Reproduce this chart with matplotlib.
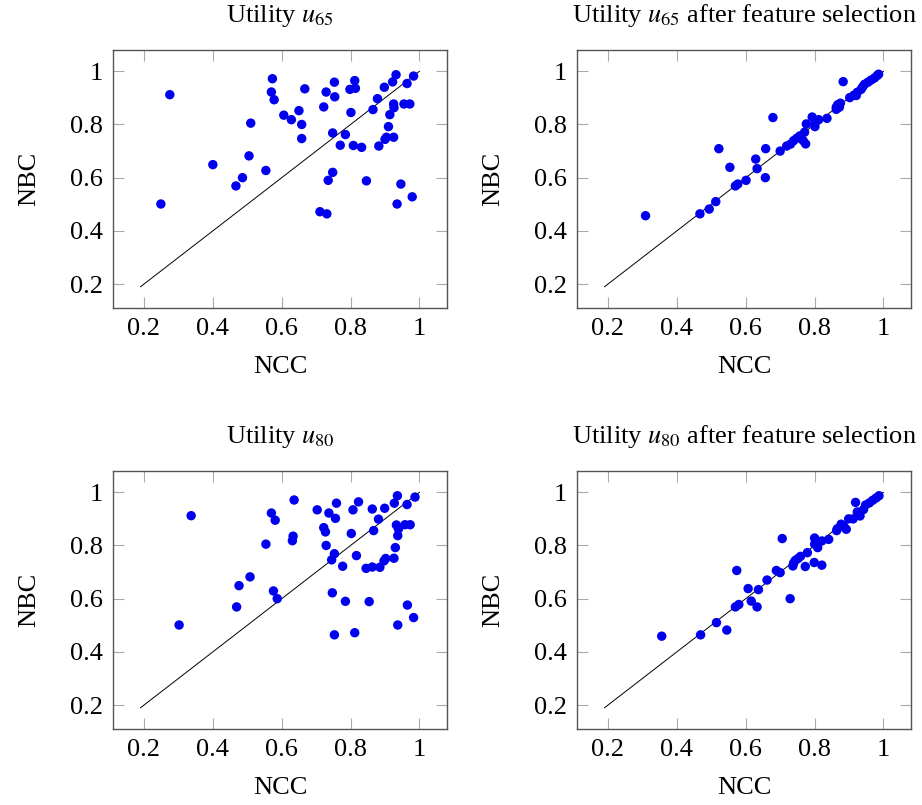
import matplotlib
matplotlib.use("Agg")
import matplotlib.pyplot as plt

plt.rcParams['font.family'] = ['Liberation Serif', 'DejaVu Serif']
plt.rcParams['mathtext.fontset'] = 'stix'
plt.rcParams['font.size'] = 19

# reference line y = x
diag = [0.19, 1.0]

# Utility u65 (NCC, NBC)
u65_ncc = [0.275, 0.249, 0.400, 0.510, 0.505, 0.486, 0.467, 0.554, 0.573, 0.570,
           0.578, 0.606, 0.628, 0.650, 0.658, 0.658, 0.667, 0.722, 0.729, 0.753,
           0.754, 0.748, 0.785, 0.770, 0.748, 0.735, 0.711, 0.731, 0.798, 0.812,
           0.814, 0.801, 0.808, 0.832, 0.846, 0.865, 0.878, 0.898, 0.882, 0.900,
           0.904, 0.910, 0.914, 0.925, 0.926, 0.925, 0.922, 0.932, 0.955, 0.972,
           0.964, 0.983, 0.946, 0.935, 0.979]
u65_nbc = [0.912, 0.501, 0.649, 0.805, 0.682, 0.600, 0.569, 0.627, 0.972, 0.922,
           0.893, 0.835, 0.818, 0.852, 0.800, 0.747, 0.934, 0.866, 0.922, 0.959,
           0.904, 0.768, 0.762, 0.722, 0.620, 0.590, 0.472, 0.464, 0.932, 0.965,
           0.936, 0.845, 0.721, 0.714, 0.588, 0.856, 0.897, 0.940, 0.719, 0.744,
           0.752, 0.792, 0.837, 0.877, 0.863, 0.752, 0.960, 0.987, 0.877, 0.877,
           0.954, 0.982, 0.576, 0.501, 0.528]

# Utility u65 after feature selection
u65fs_ncc = [0.309, 0.467, 0.494, 0.513, 0.522, 0.554, 0.570, 0.577, 0.601, 0.629,
             0.633, 0.658, 0.657, 0.679, 0.700, 0.719, 0.730, 0.739, 0.748, 0.757,
             0.771, 0.767, 0.774, 0.776, 0.793, 0.801, 0.802, 0.812, 0.836, 0.883,
             0.863, 0.867, 0.875, 0.863, 0.872, 0.902, 0.914, 0.924, 0.921, 0.935,
             0.940, 0.945, 0.955, 0.964, 0.974, 0.982, 0.986]
u65fs_nbc = [0.457, 0.464, 0.482, 0.510, 0.709, 0.639, 0.569, 0.576, 0.590, 0.670,
             0.634, 0.709, 0.600, 0.826, 0.700, 0.719, 0.726, 0.739, 0.748, 0.757,
             0.771, 0.739, 0.727, 0.802, 0.828, 0.792, 0.807, 0.818, 0.823, 0.961,
             0.865, 0.874, 0.880, 0.857, 0.865, 0.901, 0.910, 0.921, 0.909, 0.932,
             0.942, 0.951, 0.959, 0.967, 0.975, 0.984, 0.989]

# Utility u80
u80_ncc = [0.337, 0.302, 0.476, 0.508, 0.469, 0.554, 0.570, 0.581, 0.576, 0.587,
           0.636, 0.633, 0.631, 0.703, 0.737, 0.759, 0.756, 0.722, 0.727, 0.729,
           0.753, 0.745, 0.777, 0.747, 0.785, 0.753, 0.812, 0.807, 0.823, 0.802,
           0.817, 0.854, 0.863, 0.881, 0.867, 0.899, 0.845, 0.863, 0.885, 0.897,
           0.902, 0.926, 0.930, 0.937, 0.933, 0.939, 0.927, 0.936, 0.958, 0.973,
           0.964, 0.987, 0.965, 0.937, 0.983]
u80_nbc = [0.912, 0.501, 0.649, 0.682, 0.569, 0.805, 0.922, 0.895, 0.629, 0.600,
           0.971, 0.835, 0.818, 0.934, 0.922, 0.959, 0.902, 0.867, 0.851, 0.800,
           0.769, 0.746, 0.722, 0.622, 0.590, 0.464, 0.472, 0.934, 0.964, 0.845,
           0.762, 0.589, 0.937, 0.899, 0.856, 0.940, 0.714, 0.719, 0.718, 0.742,
           0.751, 0.752, 0.792, 0.837, 0.877, 0.862, 0.959, 0.987, 0.878, 0.878,
           0.954, 0.982, 0.576, 0.501, 0.529]

# Utility u80 after feature selection
u80fs_ncc = [0.356, 0.469, 0.515, 0.545, 0.574, 0.570, 0.580, 0.607, 0.616, 0.633,
             0.637, 0.662, 0.689, 0.700, 0.706, 0.729, 0.737, 0.739, 0.744, 0.752,
             0.759, 0.779, 0.773, 0.799, 0.821, 0.800, 0.800, 0.809, 0.821, 0.841,
             0.866, 0.877, 0.885, 0.892, 0.864, 0.919, 0.899, 0.912, 0.924, 0.932,
             0.942, 0.948, 0.959, 0.969, 0.979, 0.987]
u80fs_nbc = [0.459, 0.464, 0.510, 0.482, 0.706, 0.569, 0.578, 0.638, 0.591, 0.569,
             0.634, 0.670, 0.706, 0.698, 0.826, 0.600, 0.723, 0.734, 0.744, 0.751,
             0.759, 0.773, 0.721, 0.736, 0.726, 0.828, 0.805, 0.792, 0.817, 0.823,
             0.863, 0.880, 0.872, 0.861, 0.856, 0.962, 0.900, 0.900, 0.926, 0.911,
             0.935, 0.952, 0.960, 0.970, 0.979, 0.987]

titles = [r"Utility $u_{65}$", r"Utility $u_{65}$ after feature selection",
          r"Utility $u_{80}$", r"Utility $u_{80}$ after feature selection"]
panels = [(u65_ncc, u65_nbc), (u65fs_ncc, u65fs_nbc),
          (u80_ncc, u80_nbc), (u80fs_ncc, u80fs_nbc)]
ticks = [0.2, 0.4, 0.6, 0.8, 1.0]
tick_labels = ["0.2", "0.4", "0.6", "0.8", "1"]

fig = plt.figure(figsize=(9.22, 8.05), dpi=100)
W, H = 922, 805
boxes = [(113, 50), (577, 50), (113, 471), (577, 471)]  # left, top in pixels
aw, ah = 334, 258

for (left, top), (xs, ys), title in zip(boxes, panels, titles):
    ax = fig.add_axes([left / W, 1 - (top + ah) / H, aw / W, ah / H])
    ax.plot(diag, diag, color='black', lw=0.7, zorder=2)
    ax.scatter(xs, ys, s=46, color='#0000ee', edgecolors='none', zorder=3)
    ax.set_xlim(0.11, 1.08)
    ax.set_ylim(0.11, 1.08)
    ax.set_xticks(ticks)
    ax.set_xticklabels(tick_labels)
    ax.set_yticks(ticks)
    ax.set_yticklabels(tick_labels)
    ax.tick_params(direction='in', length=8, width=0.8, color='#aaaaaa',
                   top=True, right=True, pad=7, labelsize=19)
    for sp in ax.spines.values():
        sp.set_color('#555555')
        sp.set_linewidth(1.0)
    ax.set_title(title, fontsize=19, pad=20)
    ax.set_xlabel("NCC", labelpad=12)
    ax.set_ylabel("NBC", labelpad=22)

fig.savefig("out.png", dpi=100)
